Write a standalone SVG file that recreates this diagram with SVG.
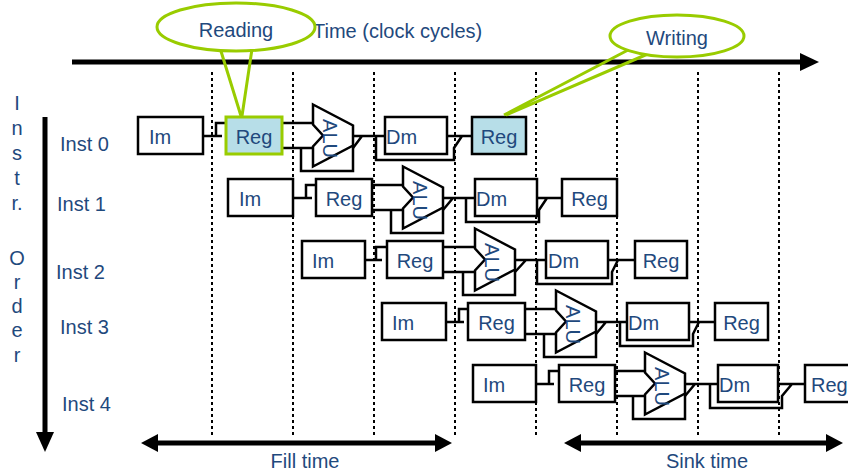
<svg xmlns="http://www.w3.org/2000/svg" width="848" height="472" viewBox="0 0 848 472">
<style>
.box{fill:#fff;stroke:#000;stroke-width:2.5}
.hl{fill:#B7DEE8}
.wire{fill:none;stroke:#000;stroke-width:2.5}
.dot{fill:none;stroke:#000;stroke-width:2;stroke-dasharray:3 3}
.t{font-family:"Liberation Sans",Arial,sans-serif;font-size:20px;fill:#1F497D}
.c{text-anchor:middle}
.call{fill:#fff;stroke:#99CC00;stroke-width:3}
.tail{fill:none;stroke:#99CC00;stroke-width:3}
.thick{fill:none;stroke:#000;stroke-width:5}
</style>
<defs>
<g id="alu">
<path d="M0,0 L40,21 L40,41 L0,62 L0,42 L10,31 L0,20 Z" class="box"/>
<text class="t c" transform="translate(9.8,34) rotate(90)">ALU</text>
</g>
</defs>
<rect width="848" height="472" fill="#fff"/>

<!-- dotted cycle lines -->
<g id="cycles">
<line class="dot" x1="212" y1="72" x2="212" y2="437"/>
<line class="dot" x1="293" y1="72" x2="293" y2="437"/>
<line class="dot" x1="374" y1="72" x2="374" y2="437"/>
<line class="dot" x1="455" y1="72" x2="455" y2="437"/>
<line class="dot" x1="536" y1="72" x2="536" y2="437"/>
<line class="dot" x1="617" y1="72" x2="617" y2="437"/>
<line class="dot" x1="698" y1="72" x2="698" y2="437"/>
<line class="dot" x1="779" y1="72" x2="779" y2="437"/>
</g>

<!-- axes -->
<g id="time-axis">
<text class="t" x="313" y="38">Time (clock cycles)</text>
<line class="thick" x1="72" y1="62" x2="802" y2="62"/>
<polygon points="800,53 819,62 800,71" fill="#000"/>
</g>
<g id="order-axis">
<line class="thick" x1="45" y1="117" x2="45" y2="436"/>
<polygon points="36,432 54,432 45,452" fill="#000"/>
<g class="t c">
<text x="17" y="110">I</text>
<text x="17" y="135">n</text>
<text x="17" y="160">s</text>
<text x="17" y="185">t</text>
<text x="17" y="210">r.</text>
<text x="17" y="265">O</text>
<text x="17" y="289">r</text>
<text x="17" y="313">d</text>
<text x="17" y="337">e</text>
<text x="17" y="362">r</text>
</g>
</g>
<g id="inst-labels" class="t">
<text x="60" y="151">Inst 0</text>
<text x="57" y="211">Inst 1</text>
<text x="56" y="279">Inst 2</text>
<text x="60" y="334">Inst 3</text>
<text x="62" y="411">Inst 4</text>
</g>

<!-- connectors -->
<g id="connectors" class="wire">
<!-- row 0 -->
<path d="M203,136 H222 M216,136 V123 H226"/>
<path d="M282,123 H313 M282,148 H313 M301,148 V171 H353 V147"/>
<path d="M353,136 H385 M353,148 L362,136"/>
<path d="M376,136 V160 H454 V148 L462,136 M447,136 H472"/>
<!-- row 1 -->
<path d="M293,198 H312 M306,198 V185 H316"/>
<path d="M372,185 H403 M372,210 H403 M391,210 V233 H443 V209"/>
<path d="M443,198 H475 M443,210 L453,198"/>
<path d="M466,198 V222 H539 V210 L547,198 M537,198 H562"/>
<!-- row 2 -->
<path d="M365,260 H382 M376,260 V247 H387"/>
<path d="M443,247 H475 M443,272 H475 M463,272 V295 H515 V271"/>
<path d="M515,260 H546 M515,272 L526,260"/>
<path d="M537,260 V284 H612 V272 L618,260 M608,260 H635"/>
<!-- row 3 -->
<path d="M446,322 H464 M459,322 V309 H468"/>
<path d="M525,309 H556 M525,334 H556 M544,334 V357 H596 V333"/>
<path d="M596,322 H627 M596,334 L606,322"/>
<path d="M620,322 V346 H693 V334 L699,322 M689,322 H715"/>
<!-- row 4 -->
<path d="M536,384 H554 M549,384 V371 H559"/>
<path d="M615,371 H645 M615,396 H645 M633,396 V419 H685 V395"/>
<path d="M685,384 H718 M685,396 L695,384"/>
<path d="M710,384 V408 H782 V396 L792,384 M778,384 H805"/>
</g>

<!-- row 0 -->
<g id="i0-im"><rect class="box" x="138" y="117" width="65" height="37"/><text class="t" x="149" y="144">Im</text></g>
<g id="i0-reg"><rect class="box hl" x="226" y="117" width="56" height="37" style="stroke:#99CC00;stroke-width:3"/><text class="t c" x="254" y="144">Reg</text></g>
<g id="i0-alu"><use href="#alu" x="313" y="104.5"/></g>
<g id="i0-dm"><rect class="box" x="385" y="117" width="62" height="37"/><text class="t" x="386" y="144">Dm</text></g>
<g id="i0-wb"><rect class="box hl" x="472" y="117" width="54" height="37"/><text class="t c" x="499" y="144">Reg</text></g>

<!-- row 1 -->
<g id="i1-im"><rect class="box" x="228" y="179" width="65" height="37"/><text class="t" x="239" y="206">Im</text></g>
<g id="i1-reg"><rect class="box" x="316" y="179" width="56" height="37"/><text class="t c" x="344" y="206">Reg</text></g>
<g id="i1-alu"><use href="#alu" x="403" y="166.5"/></g>
<g id="i1-dm"><rect class="box" x="475" y="179" width="62" height="37"/><text class="t" x="476" y="206">Dm</text></g>
<g id="i1-wb"><rect class="box" x="562" y="179" width="55" height="37"/><text class="t c" x="589.5" y="206">Reg</text></g>

<!-- row 2 -->
<g id="i2-im"><rect class="box" x="302" y="241" width="63" height="37"/><text class="t" x="312" y="268">Im</text></g>
<g id="i2-reg"><rect class="box" x="387" y="241" width="56" height="37"/><text class="t c" x="415" y="268">Reg</text></g>
<g id="i2-alu"><use href="#alu" x="475" y="228.5"/></g>
<g id="i2-dm"><rect class="box" x="546" y="241" width="62" height="37"/><text class="t" x="548" y="268">Dm</text></g>
<g id="i2-wb"><rect class="box" x="635" y="241" width="52" height="37"/><text class="t c" x="661" y="268">Reg</text></g>

<!-- row 3 -->
<g id="i3-im"><rect class="box" x="382" y="303" width="64" height="37"/><text class="t" x="392" y="330">Im</text></g>
<g id="i3-reg"><rect class="box" x="468" y="303" width="57" height="37"/><text class="t c" x="496.5" y="330">Reg</text></g>
<g id="i3-alu"><use href="#alu" x="556" y="290.5"/></g>
<g id="i3-dm"><rect class="box" x="627" y="303" width="62" height="37"/><text class="t" x="628" y="330">Dm</text></g>
<g id="i3-wb"><rect class="box" x="715" y="303" width="53" height="37"/><text class="t c" x="741.5" y="330">Reg</text></g>

<!-- row 4 -->
<g id="i4-im"><rect class="box" x="473" y="365" width="63" height="37"/><text class="t" x="483" y="392">Im</text></g>
<g id="i4-reg"><rect class="box" x="559" y="365" width="56" height="37"/><text class="t c" x="587" y="392">Reg</text></g>
<g id="i4-alu"><use href="#alu" x="645" y="352.5"/></g>
<g id="i4-dm"><rect class="box" x="718" y="365" width="60" height="37"/><text class="t" x="719" y="392">Dm</text></g>
<g id="i4-wb"><rect class="box" x="805" y="365" width="60" height="37"/><text class="t" x="811" y="392">Reg</text></g>

<!-- fill / sink -->
<g id="fill-time">
<line class="thick" x1="156" y1="443" x2="438" y2="443"/>
<polygon points="141,443 158,434 158,452" fill="#000"/>
<polygon points="452,443 435,434 435,452" fill="#000"/>
<text class="t c" x="305" y="468">Fill time</text>
</g>
<g id="sink-time">
<line class="thick" x1="578" y1="443" x2="828" y2="443"/>
<polygon points="564,443 581,434 581,452" fill="#000"/>
<polygon points="843,443 826,434 826,452" fill="#000"/>
<text class="t c" x="707" y="468">Sink time</text>
</g>

<!-- callouts -->
<g id="reading">
<path class="tail" d="M220,48 L241,116 M252,49 L242,116"/>
<ellipse class="call" cx="236" cy="27" rx="79" ry="24"/>
<text class="t c" x="236" y="37">Reading</text>
</g>
<g id="writing">
<path class="tail" d="M630,49 L504,115 M650,53 L506,115"/>
<ellipse class="call" cx="677" cy="36" rx="67" ry="21"/>
<text class="t c" x="677" y="45">Writing</text>
</g>
</svg>
